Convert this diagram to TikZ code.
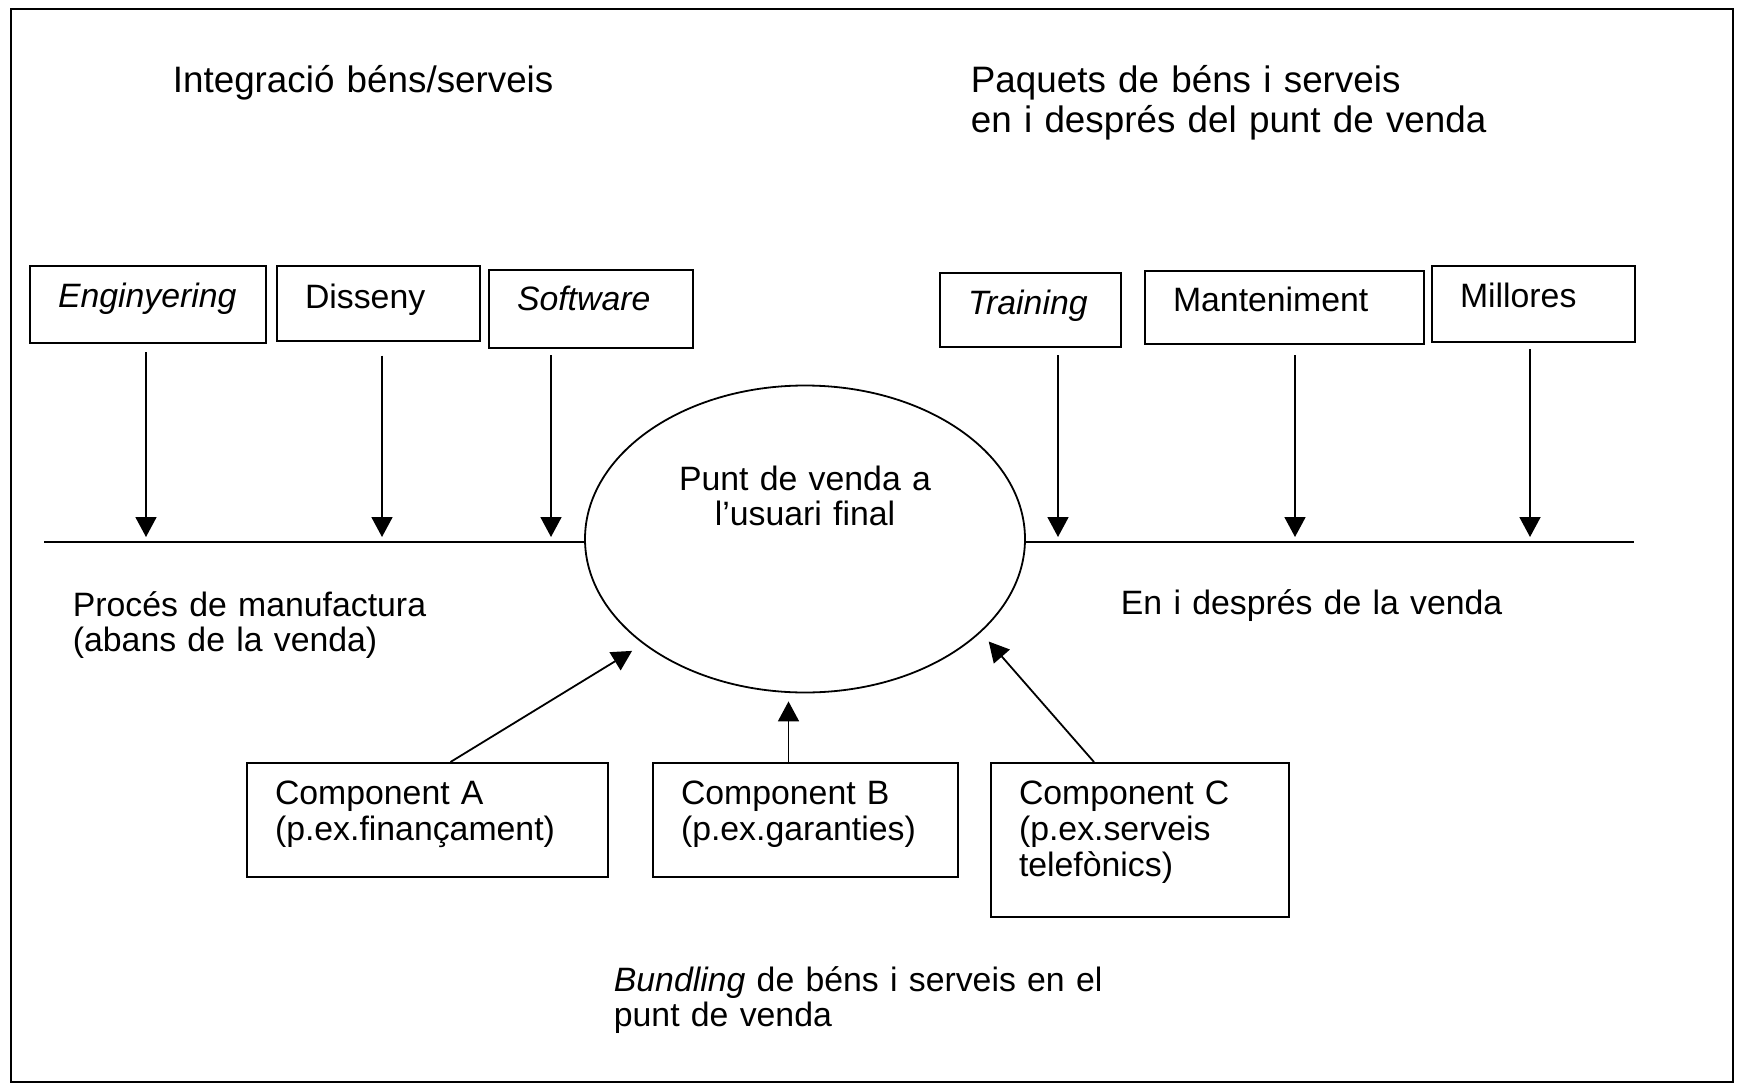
\documentclass[tikz,border=0pt]{standalone}
\usepackage{fontspec}
\setmainfont{Liberation Sans}
\usetikzlibrary{arrows.meta,shapes}
\tikzstyle{bx} = [rectangle, draw, line width=1pt, anchor=north west, align=left,
    inner xsep=14pt, inner ysep=0pt, text height=20.5pt, font=\fontsize{16.9pt}{18pt}\selectfont]
\tikzstyle{lbl} = [anchor=base west, inner sep=0pt, align=left, font=\fontsize{16.9pt}{17.8pt}\selectfont]
\tikzstyle{ttl} = [anchor=base west, inner sep=0pt, align=left, font=\fontsize{18.4pt}{20pt}\selectfont]

\begin{document}
\begin{tikzpicture}[x=0.5pt,y=-0.5pt,>={Triangle[length=10pt,width=10.5pt]},line width=0.9pt]
  \useasboundingbox (0,0) rectangle (1745,1086);
  \draw[line width=1pt] (11,9) rectangle (1733,1082);

  % titles
  \node[ttl,text width=260pt] (integ) at (172,93) {Integració béns/serveis};
  \node[ttl,text width=280pt] (paq) at (970,93) {Paquets de béns i serveis\\en i després del punt de venda};

  % upper boxes
  \node[bx,text width=90pt,text depth=18pt]   (eng) at (29,265)   {\textit{Enginyering}};
  \node[bx,text width=73.5pt,text height=21pt,text depth=16.3pt] (dis) at (276,265)  {Disseny};
  \node[bx,text width=74pt,text height=20.3pt,text depth=18.8pt] (sw)  at (488,269)  {\textit{Software}};
  \node[bx,text width=62.5pt,text depth=16.5pt] (tr)  at (939,272)  {\textit{Training}};
  \node[bx,text width=111.5pt,text height=20.3pt,text depth=16.3pt] (man) at (1144,270) {Manteniment};
  \node[bx,text width=73.5pt,text height=20.8pt,text depth=17.2pt] (mil) at (1431,265) {Millores};

  % point of sale
  \node[ellipse, draw, minimum width=220pt, minimum height=153.5pt, inner sep=0pt,
        text width=130pt, align=center, text height=13pt, text depth=62pt,
        font=\fontsize{16.9pt}{17.8pt}\selectfont] (pv) at (805,539) {Punt de venda a\\l’usuari final};

  % time line
  \coordinate (L) at (44,542);
  \coordinate (R) at (1634,542);
  \draw (L) -- (L -| pv.west);
  \draw (pv.east |- R) -- (R);

  \foreach \b/\x/\g in {eng/146/4pt,dis/382/7pt,sw/551/3pt,tr/1058/3.5pt,man/1295/5pt,mil/1530/3pt}
    {\coordinate (h\b) at (\x,537);
     \draw[->,shorten <=\g] (h\b |- \b.south) -- (h\b);}

  \node[lbl,text width=190pt] (manuf) at (72,616) {Procés de manufactura\\(abans de la venda)};
  \node[lbl,text width=250pt] (despr) at (1120,614) {En i després de la venda};

  % lower boxes
  \node[bx,text width=152.5pt,text depth=36.7pt] (ca) at (246,762) {Component A\\(p.ex.finançament)};
  \node[bx,text width=124.5pt,text depth=36.7pt] (cb) at (652,762) {Component B\\(p.ex.garanties)};
  \node[bx,text width=121pt,text depth=56.4pt]   (cc) at (990,762) {Component C\\(p.ex.serveis\\telefònics)};

  \draw[->,shorten >=6.5pt] ([xshift=11.5pt]ca.north) -- (pv.213);
  \draw[->,shorten >=4pt] ([xshift=-8.5pt]cb.north) -- ([xshift=-8.5pt]cb.north |- pv.south);
  \draw[->,shorten >=6pt] ([xshift=-23pt]cc.north) -- (pv.332);

  \node[lbl,text width=250pt] (bund) at (613,991) {\textit{Bundling} de béns i serveis en el\\punt de venda};
\end{tikzpicture}
\end{document}
